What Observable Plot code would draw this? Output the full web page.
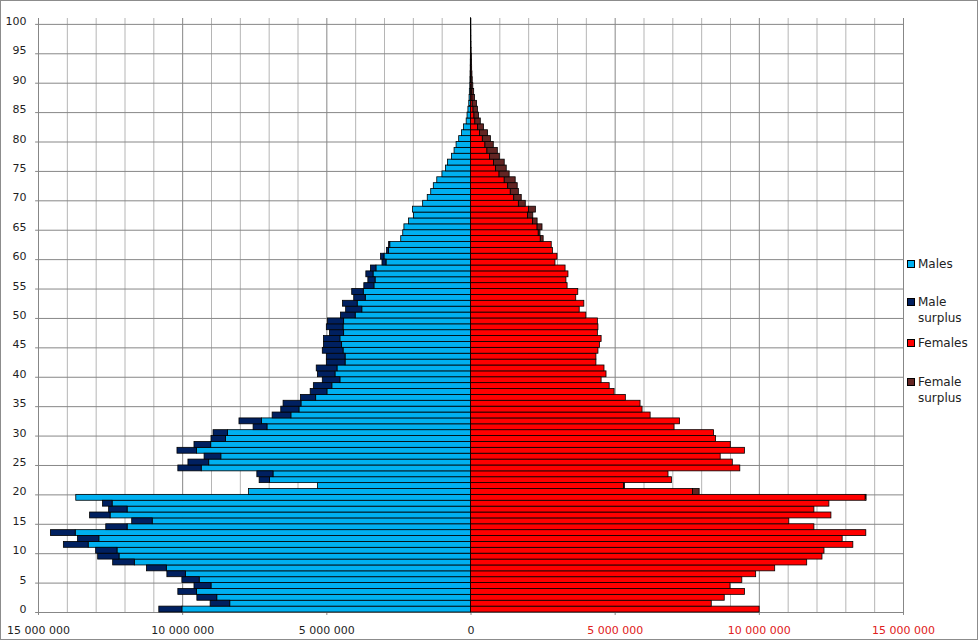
<!DOCTYPE html>
<html>
<head>
<meta charset="utf-8">
<script src="https://cdn.jsdelivr.net/npm/d3@7"></script>
<script src="https://cdn.jsdelivr.net/npm/@observablehq/plot@0.6"></script>
<style>
  body { margin: 0; background: #fff; font-family: "DejaVu Sans", sans-serif; }
  #wrap { position: relative; width: 978px; height: 640px; overflow: hidden; }
  #frame { position: absolute; left: 0; top: 0; width: 976px; height: 638px; border: 1px solid #8c8c8c; pointer-events: none; }
  #legend { position: absolute; left: 907px; top: 0; width: 71px; height: 640px; font-size: 12px; color: #222; }
  .item { position: absolute; left: 0; line-height: 16px; padding-left: 11px; white-space: nowrap; }
  .sw { position: absolute; left: 0; top: 4px; width: 8px; height: 8px; box-sizing: border-box; border: 1px solid #000; }
</style>
</head>
<body>
<div id="wrap">
  <div id="chart"></div>
  <div id="legend"></div>
  <div id="frame"></div>
</div>
<script>
// Age categories (years)
const ages = d3.range(0, 101);

// Male totals by age, millions
const males = [
  10.81, 9.03, 9.49, 10.15, 9.59, 10.01, 10.53, 11.24, 12.41, 12.93,
  13.00, 14.12, 13.63, 14.57, 12.65, 11.75, 13.21, 12.55, 12.76, 13.69,
  7.70, 5.31, 7.33, 7.41, 10.15, 9.80, 9.24, 10.18, 9.59, 9.00,
  8.93, 7.54, 8.03, 6.88, 6.58, 6.50, 5.90, 5.56, 5.45, 5.14,
  5.31, 5.35, 5.00, 5.00, 5.14, 5.10, 5.10, 4.89, 5.00, 4.96,
  4.51, 4.33, 4.44, 4.05, 4.12, 3.70, 3.56, 3.63, 3.47, 3.07,
  3.12, 2.91, 2.84, 2.42, 2.35, 2.31, 2.15, 1.98, 2.01, 1.66,
  1.50, 1.38, 1.29, 1.17, 0.99, 0.87, 0.80, 0.66, 0.57, 0.50,
  0.41, 0.31, 0.24, 0.15, 0.12, 0.09, 0.06, 0.05, 0.04, 0.025,
  0.02, 0.015, 0.01, 0.008, 0.006, 0.004, 0.003, 0.002, 0.002, 0.001,
  0.001
];

// Female totals by age, millions
const females = [
  10.01, 8.35, 8.80, 9.50, 9.00, 9.41, 9.89, 10.55, 11.66, 12.19,
  12.26, 13.26, 12.89, 13.71, 11.91, 11.04, 12.50, 11.91, 12.43, 13.72,
  7.93, 5.34, 6.97, 6.85, 9.34, 9.08, 8.66, 9.50, 9.01, 8.50,
  8.43, 7.06, 7.25, 6.23, 5.95, 5.88, 5.37, 4.98, 4.81, 4.53,
  4.70, 4.63, 4.35, 4.35, 4.42, 4.47, 4.53, 4.40, 4.42, 4.40,
  4.00, 3.77, 3.93, 3.65, 3.72, 3.35, 3.31, 3.38, 3.28, 2.93,
  3.00, 2.84, 2.80, 2.52, 2.41, 2.48, 2.31, 2.16, 2.25, 1.90,
  1.76, 1.66, 1.62, 1.55, 1.34, 1.24, 1.17, 1.00, 0.93, 0.79,
  0.69, 0.59, 0.45, 0.34, 0.28, 0.24, 0.21, 0.14, 0.11, 0.08,
  0.06, 0.05, 0.04, 0.035, 0.03, 0.02, 0.015, 0.01, 0.008, 0.006,
  0.005
];

// Axis tick values
const xMajorTicks = [-15e6, -10e6, -5e6, 0, 5e6, 10e6, 15e6];
const xMinorTicks = d3.range(-15, 16).filter(v => v % 5 !== 0).map(v => v * 1e6);
const xLeftLabels = [-15e6, -10e6, -5e6, 0];
const xRightLabels = [5e6, 10e6, 15e6];
const yTicks = [0, 5, 10, 15, 20, 25, 30, 35, 40, 45, 50, 55, 60, 65, 70, 75, 80, 85, 90, 95, 100];

// Series names and colours
const seriesNames = ["Males", "Male surplus", "Females", "Female surplus"];
const seriesColors = ["#00b0f0", "#002060", "#ff0000", "#632523"];

const rows = ages.map((age, i) => {
  const m = males[i] * 1e6, f = females[i] * 1e6;
  const common = Math.min(m, f);
  return { age, common, mSur: Math.max(m - f, 0), fSur: Math.max(f - m, 0) };
});

const fmt = d => d3.format(",")(Math.abs(d)).replace(/,/g, " ");
const barStyle = { stroke: "#000", strokeWidth: 0.8 };

const chart = Plot.plot({
  width: 978,
  height: 640,
  marginLeft: 38,
  marginRight: 75,
  marginTop: 18,
  marginBottom: 28,
  style: { fontFamily: "DejaVu Sans", fontSize: "11px", background: "transparent" },
  x: { domain: [-15e6, 15e6] },
  y: { domain: [0, 101] },
  marks: [
    Plot.ruleX(xMinorTicks, { x: d => d, y1: 0, y2: 101, stroke: "#b5b5b5", strokeWidth: 1 }),
    Plot.ruleX(xMajorTicks, { x: d => d, y1: -0.5, y2: 101, stroke: "#878787", strokeWidth: 1 }),
    Plot.ruleY(yTicks, { y: d => d, x1: -15.1e6, x2: 15e6, stroke: "#878787", strokeWidth: 1 }),
    Plot.rectX(rows, { x1: d => -d.common, x2: 0, y1: "age", y2: d => d.age + 1, fill: seriesColors[0], ...barStyle }),
    Plot.rectX(rows.filter(d => d.mSur > 0), { x1: d => -(d.common + d.mSur), x2: d => -d.common, y1: "age", y2: d => d.age + 1, fill: seriesColors[1], ...barStyle }),
    Plot.rectX(rows, { x1: 0, x2: d => d.common, y1: "age", y2: d => d.age + 1, fill: seriesColors[2], ...barStyle }),
    Plot.rectX(rows.filter(d => d.fSur > 0), { x1: d => d.common, x2: d => d.common + d.fSur, y1: "age", y2: d => d.age + 1, fill: seriesColors[3], ...barStyle }),
    Plot.axisY({ ticks: yTicks.map(t => t + 0.5), tickFormat: d => String(Math.round(d - 0.5)), tickSize: 0, tickPadding: 12, fill: "#1f1f1f", label: null }),
    Plot.axisX({ ticks: xLeftLabels, tickFormat: fmt, tickSize: 0, tickPadding: 14, fill: "#1f1f1f", label: null }),
    Plot.axisX({ ticks: xRightLabels, tickFormat: fmt, tickSize: 0, tickPadding: 14, fill: "#e02020", label: null })
  ]
});
document.getElementById("chart").appendChild(chart);

// Legend (right side)
const legendTops = [256, 294, 335, 374];
const legend = document.getElementById("legend");
seriesNames.forEach((name, i) => {
  const it = document.createElement("div");
  it.className = "item";
  it.style.top = legendTops[i] + "px";
  const sw = document.createElement("span");
  sw.className = "sw";
  sw.style.background = seriesColors[i];
  it.appendChild(sw);
  const words = name.split(" ");
  it.appendChild(document.createTextNode(words[0]));
  if (words[1]) {
    it.appendChild(document.createElement("br"));
    it.appendChild(document.createTextNode(words[1]));
  }
  legend.appendChild(it);
});
</script>
</body>
</html>
